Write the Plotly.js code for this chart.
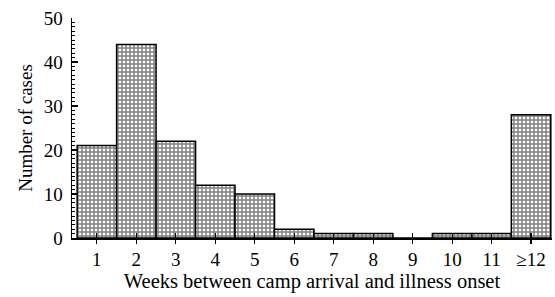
<!DOCTYPE html>
<html><head><meta charset="utf-8">
<script src="https://cdn.plot.ly/plotly-3.0.1.min.js"></script>
<style>html,body{margin:0;padding:0;background:#fff;}#chart{width:555px;height:297px;}</style>
</head><body><div id="chart"></div>
<script>
const weeks = [1,2,3,4,5,6,7,8,9,10,11,12];
const tickLabels = ["1","2","3","4","5","6","7","8","9","10","11","≥12"];
const cases = [21,44,22,12,10,2,1,1,0,1,1,28];

const font = {family: "Liberation Serif, Times New Roman, serif", size: 19, color: "#000"};
const xTitleFont = {family: "Liberation Serif, Times New Roman, serif", size: 20.5, color: "#000"};

const trace = {
  type: "bar", x: weeks, y: cases,
  marker: {color: "#fff", line: {color: "#000", width: 1.5},
    pattern: {shape: "+", size: 4, solidity: 0.6, fgcolor: "#000", bgcolor: "#fff", fillmode: "overlay"}},
  hoverinfo: "skip"
};
const ghost = {type: "scatter", x: weeks, y: cases, xaxis: "x2", mode: "markers", marker: {opacity: 0}, hoverinfo: "skip", showlegend: false};

const layout = {
  width: 555, height: 297,
  margin: {l: 72, r: 3, t: 18, b: 59},
  paper_bgcolor: "#fff", plot_bgcolor: "#fff",
  showlegend: false, bargap: 0, font: font,
  xaxis: {range: [0.37, 12.53], tickmode: "array", tickvals: weeks, ticktext: tickLabels,
    showline: true, linecolor: "#000", linewidth: 1.5, ticks: "outside", ticklen: 4, tickwidth: 1.2, tickcolor: "#000",
    showgrid: false, zeroline: false, tickfont: font,
    title: {text: "Weeks between camp arrival and illness onset", font: xTitleFont, standoff: 2}},
  xaxis2: {overlaying: "x", matches: "x", range: [0.37, 12.53], tickmode: "array", tickvals: weeks, showticklabels: false,
    ticks: "inside", ticklen: 5, tickwidth: 1.2, tickcolor: "#000", showgrid: false, zeroline: false, showline: false, layer: "above traces"},
  yaxis: {range: [0, 50], dtick: 10, showline: true, linecolor: "#000", linewidth: 1.5,
    ticks: "inside", ticklen: 6, tickwidth: 1.2, tickcolor: "#000",
    minor: {dtick: 1, ticks: "inside", ticklen: 3, tickwidth: 1, tickcolor: "#000"},
    showgrid: false, zeroline: false, tickfont: font, ticklabelstandoff: 4,
    title: {text: "Number of cases", font: font, standoff: 6}}
};
Plotly.newPlot("chart", [trace, ghost], layout, {staticPlot: true, displayModeBar: false});
</script></body></html>
